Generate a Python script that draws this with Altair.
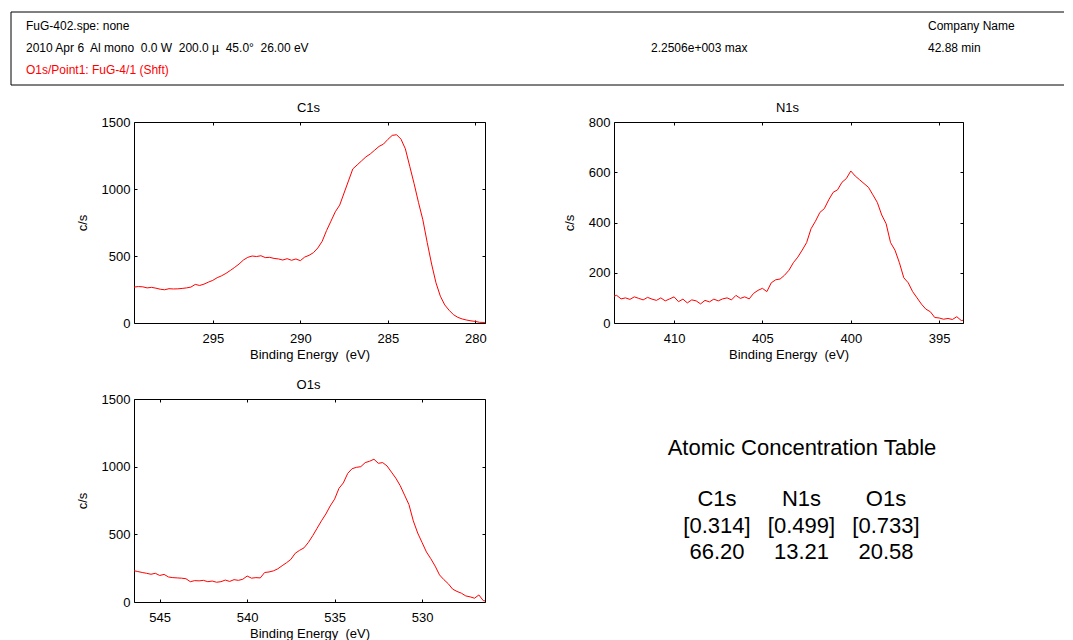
import altair as alt
import pandas as pd

FONT = "Liberation Sans"
RED = "#ff0000"
NB = "\u00a0"

# ---------------- spectra ----------------
c1s_be = [299.50, 299.25, 299.00, 298.75, 298.50, 298.25, 298.00, 297.75, 297.50, 297.25,
          297.00, 296.75, 296.50, 296.25, 296.00, 295.75, 295.50, 295.25, 295.00, 294.75,
          294.50, 294.25, 294.00, 293.75, 293.50, 293.25, 293.00, 292.75, 292.50, 292.25,
          292.00, 291.75, 291.50, 291.25, 291.00, 290.75, 290.50, 290.25, 290.00, 289.75,
          289.50, 289.25, 289.00, 288.75, 288.50, 288.25, 288.00, 287.75, 287.50, 287.25,
          287.00, 286.75, 286.50, 286.25, 286.00, 285.75, 285.50, 285.25, 285.00, 284.75,
          284.50, 284.25, 284.00, 283.75, 283.50, 283.25, 283.00, 282.75, 282.50, 282.25,
          282.00, 281.75, 281.50, 281.25, 281.00, 280.75, 280.50, 280.25, 280.00, 279.75,
          279.50, 279.25]
c1s_cps = [268, 272, 270, 262, 266, 260, 252, 248, 256, 254,
           255, 258, 262, 268, 288, 280, 290, 305, 318, 338,
           352, 370, 392, 415, 440, 470, 490, 500, 496, 502,
           488, 490, 482, 478, 470, 480, 468, 478, 465, 492,
           505, 525, 560, 610, 690, 760, 830, 880, 970, 1060,
           1150, 1180, 1210, 1240, 1262, 1290, 1318, 1335, 1370, 1400,
           1405, 1372, 1300, 1170, 1040, 900, 770, 600, 440, 300,
           200, 135, 95, 62, 42, 30, 22, 16, 12, 5,
           4, 3]

n1s_be = [413.50, 413.25, 413.00, 412.75, 412.50, 412.25, 412.00, 411.75, 411.50, 411.25,
          411.00, 410.75, 410.50, 410.25, 410.00, 409.75, 409.50, 409.25, 409.00, 408.75,
          408.50, 408.25, 408.00, 407.75, 407.50, 407.25, 407.00, 406.75, 406.50, 406.25,
          406.00, 405.75, 405.50, 405.25, 405.00, 404.75, 404.50, 404.25, 404.00, 403.75,
          403.50, 403.25, 403.00, 402.75, 402.50, 402.25, 402.00, 401.75, 401.50, 401.25,
          401.00, 400.75, 400.50, 400.25, 400.00, 399.75, 399.50, 399.25, 399.00, 398.75,
          398.50, 398.25, 398.00, 397.75, 397.50, 397.25, 397.00, 396.75, 396.50, 396.25,
          396.00, 395.75, 395.50, 395.25, 395.00, 394.75, 394.50, 394.25, 394.00, 393.75,
          393.50]
n1s_cps = [105, 110, 96, 100, 94, 104, 98, 92, 102, 95,
           90, 100, 88, 96, 104, 85, 95, 80, 92, 88,
           76, 90, 84, 95, 88, 96, 100, 92, 110, 98,
           104, 96, 118, 130, 138, 125, 160, 172, 175, 190,
           210, 240, 262, 290, 320, 375, 405, 440, 455, 490,
           520, 530, 560, 575, 605, 585, 570, 555, 540, 510,
           480, 430, 395, 320, 290, 240, 180, 160, 125, 100,
           75, 55, 45, 22, 20, 15, 18, 14, 25, 10,
           12]

o1s_be = [546.50, 546.25, 546.00, 545.75, 545.50, 545.25, 545.00, 544.75, 544.50, 544.25,
          544.00, 543.75, 543.50, 543.25, 543.00, 542.75, 542.50, 542.25, 542.00, 541.75,
          541.50, 541.25, 541.00, 540.75, 540.50, 540.25, 540.00, 539.75, 539.50, 539.25,
          539.00, 538.75, 538.50, 538.25, 538.00, 537.75, 537.50, 537.25, 537.00, 536.75,
          536.50, 536.25, 536.00, 535.75, 535.50, 535.25, 535.00, 534.75, 534.50, 534.25,
          534.00, 533.75, 533.50, 533.25, 533.00, 532.75, 532.50, 532.25, 532.00, 531.75,
          531.50, 531.25, 531.00, 530.75, 530.50, 530.25, 530.00, 529.75, 529.50, 529.25,
          529.00, 528.75, 528.50, 528.25, 528.00, 527.75, 527.50, 527.25, 527.00, 526.75,
          526.50, 526.25]
o1s_cps = [232, 225, 218, 212, 205, 212, 196, 204, 185, 180,
           178, 176, 172, 150, 158, 156, 160, 150, 155, 146,
           150, 162, 152, 165, 160, 168, 192, 176, 180, 178,
           218, 222, 230, 245, 268, 290, 315, 360, 382, 400,
           440, 490, 545, 600, 650, 710, 760, 840, 880, 950,
           985, 995, 1000, 1030, 1040, 1055, 1025, 1030, 1005, 960,
           915, 860, 790, 720, 600, 510, 440, 370, 320, 265,
           200, 165, 135, 95, 78, 65, 45, 38, 28, 52,
           10, 5]

c1s_xticks = [295, 290, 285, 280]
c1s_yticks = [0, 500, 1000, 1500]
n1s_xticks = [410, 405, 400, 395]
n1s_yticks = [0, 200, 400, 600, 800]
o1s_xticks = [545, 540, 535, 530]
o1s_yticks = [0, 500, 1000, 1500]

# ---------------- table & header texts ----------------
elements = ["C1s", "N1s", "O1s"]
rsf = [0.314, 0.499, 0.733]
atomic_pct = [66.20, 13.21, 20.58]
table_title = "Atomic Concentration Table"
table_rows = ["name", "rsf", "pct"]

header_left = ["FuG-402.spe: none",
               f"2010 Apr 6{NB} Al mono{NB} 0.0 W{NB} 200.0 µ{NB} 45.0°{NB} 26.00 eV",
               "O1s/Point1: FuG-4/1 (Shft)"]
header_mid = "2.2506e+003 max"
header_right = ["Company Name", "42.88 min"]

x_title = f"Binding Energy{NB} (eV)"


def label(t, x, y, size=13, color="black", align="center", baseline="alphabetic"):
    return alt.Chart(pd.DataFrame({"t": [t]})).mark_text(
        font=FONT, fontSize=size, align=align, baseline=baseline, color=color).encode(
        text="t:N", x=alt.value(x), y=alt.value(y))


def panel(be, cps, name, xdom, ymax, xticks, yticks, w, h, extra=()):
    df = pd.DataFrame({"be": be, "cps": cps})
    sx = alt.Scale(domain=xdom, reverse=True, nice=False, zero=False)
    sy = alt.Scale(domain=[0, ymax], nice=False)
    common = dict(tickSize=3, tickColor="black", tickWidth=1, domain=False, grid=False,
                  offset=-3, labelFont=FONT, labelFontSize=13, labelColor="black",
                  labelFlush=False, labelOverlap=False, format="d",
                  titleFont=FONT, titleFontSize=13, titleFontWeight="normal",
                  titleColor="black")
    line = alt.Chart(df).mark_line(color=RED, strokeWidth=1, clip=True).encode(
        x=alt.X("be:Q", scale=sx,
                axis=alt.Axis(orient="bottom", values=xticks, title=x_title,
                              labelPadding=9, titlePadding=3, **common)),
        y=alt.Y("cps:Q", scale=sy,
                axis=alt.Axis(orient="left", values=yticks, title="c/s",
                              labelPadding=4, titlePadding=12, **common)),
    )
    ghost = alt.Chart(df).mark_line(strokeOpacity=0, clip=True).encode(
        x=alt.X("be:Q", scale=sx,
                axis=alt.Axis(orient="top", values=xticks, labels=False, title=None, **common)),
        y=alt.Y("cps:Q", scale=sy,
                axis=alt.Axis(orient="right", values=yticks, labels=False, title=None, **common)),
    )
    ttl = label(name, w / 2 - 1, -10)
    return alt.layer(line, ghost, ttl, *extra).resolve_axis(
        x="independent", y="independent").properties(width=w, height=h)


# ---------------- header frame (drawn above the first panel) ----------------
one = pd.DataFrame({"b": [0]})
frame_top = alt.Chart(one).mark_rule(color="black", strokeWidth=1).encode(
    x=alt.value(-123), x2=alt.value(930), y=alt.value(-110))
frame_bottom = alt.Chart(one).mark_rule(color="black", strokeWidth=1).encode(
    x=alt.value(-123), x2=alt.value(930), y=alt.value(-37))
frame_left = alt.Chart(one).mark_rule(color="black", strokeWidth=1).encode(
    x=alt.value(-123), y=alt.value(-110), y2=alt.value(-37))
header_layers = [
    frame_top, frame_bottom, frame_left,
    label(header_left[0], -108, -96, 12, align="left", baseline="middle"),
    label(header_left[1], -108, -74, 12, align="left", baseline="middle"),
    label(header_left[2], -108, -52, 12, RED, align="left", baseline="middle"),
    label(header_mid, 517, -74, 12, align="left", baseline="middle"),
    label(header_right[0], 794, -96, 12, align="left", baseline="middle"),
    label(header_right[1], 794, -74, 12, align="left", baseline="middle"),
]

c1s = panel(c1s_be, c1s_cps, "C1s", [279.45, 299.5], 1500, c1s_xticks, c1s_yticks,
            351, 201, header_layers)
n1s = panel(n1s_be, n1s_cps, "N1s", [393.65, 413.4], 800, n1s_xticks, n1s_yticks, 349, 201)
o1s = panel(o1s_be, o1s_cps, "O1s", [526.4, 546.47], 1500, o1s_xticks, o1s_yticks, 351, 203)

# ---------------- atomic concentration table ----------------
tbl_df = pd.DataFrame({
    "el": elements * 3,
    "row": [table_rows[0]] * 3 + [table_rows[1]] * 3 + [table_rows[2]] * 3,
    "txt": elements + [f"[{v:.3f}]" for v in rsf] + [f"{v:.2f}" for v in atomic_pct],
})
cells = alt.Chart(tbl_df).mark_text(font=FONT, fontSize=22, color="black",
                                    baseline="middle", align="center").encode(
    x=alt.X("el:N", scale=alt.Scale(type="point", domain=elements, range=[103, 272],
                                    padding=0), axis=None),
    y=alt.Y("row:N", scale=alt.Scale(type="point", domain=table_rows, range=[100, 153],
                                     padding=0), axis=None),
    text="txt:N",
)
table = alt.layer(label(table_title, 188, 49, 22, baseline="middle"), cells).properties(
    width=349, height=203, view=alt.ViewBackground(stroke="transparent"))

chart = alt.concat(
    c1s, n1s, o1s, table, columns=2,
    spacing={"row": 76, "column": 129}, bounds="flush",
).properties(
    padding={"left": 2, "top": 3, "right": 0, "bottom": 0},
    background="white",
).configure(font=FONT).configure_view(stroke="black", strokeWidth=1)

chart.save("out.html", embed_options={"renderer": "svg", "actions": False})
